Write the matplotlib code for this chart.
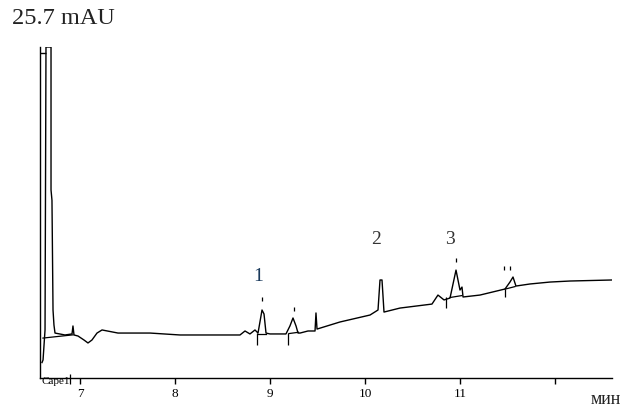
import matplotlib.pyplot as plt
import numpy as np

# chromatogram trace, time in min, signal in mAU
time_min = [6.600, 6.611, 6.632, 6.642, 6.695, 6.695, 6.705, 6.716, 6.726, 6.737,
            6.842, 6.916, 6.926, 6.937, 6.979, 7.042, 7.084, 7.126, 7.179, 7.232,
            7.40, 7.737, 8.053, 8.684, 8.737, 8.789, 8.842, 8.874, 8.916, 8.937,
            8.958, 9.0, 9.168, 9.21, 9.242, 9.274, 9.295, 9.316, 9.40, 9.474,
            9.484, 9.495, 9.737, 10.053, 10.137, 10.158, 10.179, 10.2, 10.368, 10.705,
            10.768, 10.832, 10.895, 10.958, 11.0, 11.021, 11.032, 11.21, 11.474, 11.526,
            11.558, 11.589, 11.737, 11.947, 12.158, 12.6]
signal_mau = [1.2, 1.40, 3.73, 25.7, 25.7, 14.6, 13.8, 5.28, 4.11, 3.49,
              3.34, 3.42, 4.04, 3.34, 3.26, 2.95, 2.72, 2.95, 3.49, 3.73,
              3.49, 3.49, 3.34, 3.34, 3.65, 3.42, 3.73, 3.49, 5.28, 4.97,
              3.49, 3.42, 3.42, 4.04, 4.66, 4.04, 3.49, 3.49, 3.65, 3.65,
              5.05, 3.80, 4.35, 4.89, 5.28, 7.61, 7.61, 5.12, 5.43, 5.74,
              6.44, 6.06, 6.21, 8.38, 6.83, 7.06, 6.29, 6.44, 6.91, 7.45,
              7.84, 7.14, 7.30, 7.45, 7.53, 7.61]

# integrator baselines (start t, end t, start y, end y) and event marks
base_t0 = [6.61, 8.874, 9.20, 10.895, 11.474]
base_t1 = [6.926, 8.958, 9.30, 11.02, 11.58]
base_y0 = [3.1, 3.45, 3.45, 6.25, 6.9]
base_y1 = [3.35, 3.45, 3.55, 6.4, 7.1]
event_t = [8.863, 9.189, 10.853, 11.474]
event_lo = [2.56, 2.56, 5.43, 6.29]
event_hi = [3.49, 3.49, 6.29, 6.91]
dot_t = [8.916, 9.253, 10.958, 11.463, 11.526]
dot_y = [6.13, 5.35, 9.16, 8.54, 8.54]

peak_names = ["1", "2", "3"]
peak_t = [8.874, 10.116, 10.895]
peak_y = [7.2, 10.1, 10.1]
peak_colors = ["#1a3a5c", "#333333", "#333333"]

xticks = [7, 8, 9, 10, 11, 12]
xticklabels = ["7", "8", "9", "10", "11", ""]

fig = plt.figure(figsize=(6.24, 4.07), dpi=100)
ax = fig.add_axes([40/624, 1 - 378/407, 572/624, 331/407])

ax.plot(time_min, signal_mau, color="black", lw=1.0)
for t0, t1, y0, y1 in zip(base_t0, base_t1, base_y0, base_y1):
    ax.plot([t0, t1], [y0, y1], color="black", lw=0.9)
ax.vlines(event_t, event_lo, event_hi, color="black", lw=0.9)
ax.plot(dot_t, dot_y, ls="none", marker="|", ms=3, color="black", mew=0.9)

for name, t, y, c in zip(peak_names, peak_t, peak_y, peak_colors):
    ax.text(t, y, name, ha="center", va="bottom", fontsize=14,
            family="Liberation Serif", color=c)

ax.set_xlim(6.579, 12.6)
ax.set_ylim(0, 25.7)
ax.spines["top"].set_visible(False)
ax.spines["right"].set_visible(False)
ax.spines["left"].set_linewidth(1.0)
ax.spines["bottom"].set_linewidth(1.0)

ax.set_xticks(xticks)
ax.set_xticklabels(xticklabels, family="Liberation Serif", fontsize=9.5)
ax.tick_params(axis="x", direction="out", length=4, width=1, pad=3)
ax.set_yticks([25.2])
ax.set_yticklabels([])
ax.tick_params(axis="y", direction="in", length=4, width=1)

fig.text(12/624, 1 - 18/407, "25.7 mAU", family="Liberation Serif", fontsize=17.5,
         va="center", ha="left", color="#222222")
fig.text(621/624, 1 - 400/407, "мин", family="Liberation Serif", fontsize=13,
         va="center", ha="right", color="#222222")
fig.text(41/624, 1 - 381/407, "Cape1", family="Liberation Serif", fontsize=8,
         va="center", ha="left")
ax.vlines([6.895], -0.5, 0.3, color="black", lw=0.9, clip_on=False)

fig.savefig("out.png", dpi=100)
